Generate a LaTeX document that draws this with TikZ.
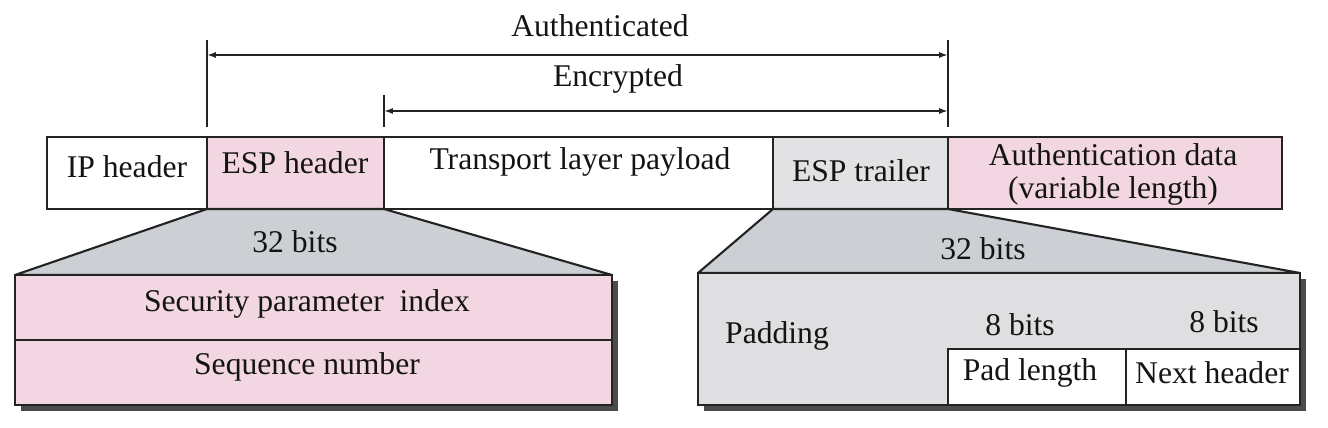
\documentclass[tikz,border=0pt]{standalone}
\usepackage{fontspec}
\setmainfont{Liberation Serif}
\usetikzlibrary{arrows.meta,fit}
\definecolor{pinkf}{RGB}{242,214,225}
\definecolor{grayt}{RGB}{204,207,211}
\definecolor{grayb}{RGB}{223,223,226}
\definecolor{grayesp}{RGB}{226,226,229}
\definecolor{shad}{RGB}{75,75,75}
\definecolor{linec}{RGB}{35,35,35}
\definecolor{txtc}{RGB}{20,20,20}
\begin{document}
\begin{tikzpicture}[x=0.02cm,y=-0.02cm,
  box/.style={draw=linec, line width=1.2pt, rectangle, inner sep=0pt, outer sep=0pt},
  txt/.style={text=txtc, inner sep=0pt, font=\rmfamily\fontsize{18}{18.8}\selectfont, align=center},
  tick/.style={draw=linec, line width=1.2pt},
  span/.style={draw=linec, line width=1.2pt, {Latex[length=5pt,width=3.4pt]}-{Latex[length=5pt,width=3.4pt]}},
  trap/.style={fill=grayt, draw=linec, line width=1.2pt, line join=round}]
\useasboundingbox (0,0) rectangle (1328,428);
% main row
\node[box, fit={(47,137) (207,209)}] (ip) {};
\node[box, fill=pinkf, fit={(207,137) (384,209)}] (esph) {};
\node[box, fit={(384,137) (773,209)}] (pay) {};
\node[box, fill=grayesp, fit={(773,137) (948,209)}] (espt) {};
\node[box, fill=pinkf, fit={(948,137) (1282,209)}] (auth) {};
% ticks and spans
\coordinate (t1top) at (207,40);
\coordinate (t2top) at (948,40);
\coordinate (t3top) at (384,95);
\coordinate (t1bot) at (207,127);
\coordinate (t2bot) at (948,127);
\coordinate (t3bot) at (384,127);
\draw[tick] (t1top) -- (t1bot);
\draw[tick] (t2top) -- (t2bot);
\draw[tick] (t3top) -- (t3bot);
\coordinate (aL) at (207,55);
\coordinate (aR) at (948,55);
\coordinate (eL) at (384,111);
\coordinate (eR) at (948,111);
\draw[span] (aL) -- (aR);
\draw[span] (eL) -- (eR);
\node[txt] (lauth) at (600,26) {Authenticated};
\node[txt] (lenc) at (618,79) {Encrypted};
% left detail
\node[inner sep=0pt, outer sep=0pt, fit={(15,275) (612,405)}] (lb) {};
\fill[shad] ([shift={(6,6)}]lb.north west) rectangle ([shift={(6,6)}]lb.south east);
\filldraw[trap] (esph.south west) -- (lb.north west) -- (lb.north east) -- (esph.south east) -- cycle;
\node[box, fill=pinkf, fit={(15,275) (612,340)}] (spi) {};
\node[box, fill=pinkf, fit={(15,340) (612,405)}] (seq) {};
% right detail
\node[inner sep=0pt, outer sep=0pt, fit={(698,273) (1300,405)}] (rb) {};
\fill[shad] ([shift={(6,6)}]rb.north west) rectangle ([shift={(6,6)}]rb.south east);
\filldraw[trap] (espt.south west) -- (rb.north west) -- (rb.north east) -- (auth.south west) -- cycle;
\node[box, fill=grayb, fit={(698,273) (1300,405)}] (pad) {};
\node[box, fill=white, fit={(948,349) (1126,405)}] (padlen) {};
\node[box, fill=white, fit={(1126,349) (1300,405)}] (nexth) {};
% texts
\node[txt] (lip) at (127,167) {IP header};
\node[txt] (lesph) at (295,163) {ESP header};
\node[txt] (lpay) at (580,162) {Transport layer payload};
\node[txt] (lespt) at (861,171) {ESP trailer};
\node[txt] (lauthd) at (1113,174) {Authentication data\\(variable length)};
\node[txt] (l32a) at (295,242) {32 bits};
\node[txt] (l32b) at (983,249) {32 bits};
\node[txt] (lspi) at (307,304) {Security parameter\ \ index};
\node[txt] (lseq) at (307,367) {Sequence number};
\node[txt] (lpad) at (777,336) {Padding};
\node[txt] (l8a) at (1020,325) {8 bits};
\node[txt] (l8b) at (1224,322) {8 bits};
\node[txt] (lpadlen) at (1030,373) {Pad length};
\node[txt] (lnexth) at (1212,373) {Next header};
\end{tikzpicture}
\end{document}
